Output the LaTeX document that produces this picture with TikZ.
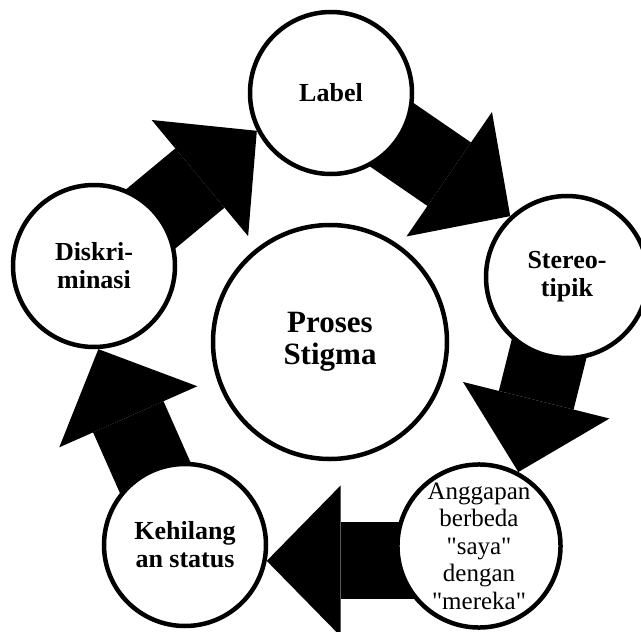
\documentclass[tikz,border=0pt]{standalone}
\usepackage{fontspec}
\setmainfont{Liberation Serif}
\newfontfamily\plainserif{Liberation Serif}
\usetikzlibrary{arrows.meta,backgrounds}

\begin{document}
\begin{tikzpicture}[x=1pt,y=-1pt,
  circ/.style={draw,circle,line width=4.5pt,fill=white,minimum size=162pt,inner sep=0pt,align=center,
    font=\bfseries\fontsize{26}{28}\selectfont},
  blk/.style={line width=77pt,-{Triangle[width=151pt,length=74pt,line width=0pt]}}]
\useasboundingbox (0,0) rectangle (641,632);
\node (mid) [circ,minimum size=234pt,font=\bfseries\fontsize{31}{32.5}\selectfont] at (330,342) {Proses\\Stigma};
\node (label) [circ] at (331,93) {Label};
\node (stereo) [circ] at (567,277) {Stereo-\\tipik};
\node (anggapan) [circ,font=\plainserif\fontsize{25}{27.5}\selectfont] at (479,546) {Anggapan\\berbeda\\"saya"\\dengan\\"mereka"};
\node (kehilang) [circ] at (185,545) {Kehilang\\an status};
\node (diskri) [circ] at (94,266) {Diskri-\\minasi};
\begin{scope}[on background layer]
\draw[blk] (label.center) -- (stereo.133);
\draw[blk] (stereo.center) -- (anggapan.62);
\draw[blk] (kehilang.-11 -| anggapan.center) -- (kehilang.-11);
\draw[blk] (kehilang.center) -- (diskri.-87);
\draw[blk] (diskri.center) -- (label.207);
\end{scope}
\end{tikzpicture}
\end{document}
